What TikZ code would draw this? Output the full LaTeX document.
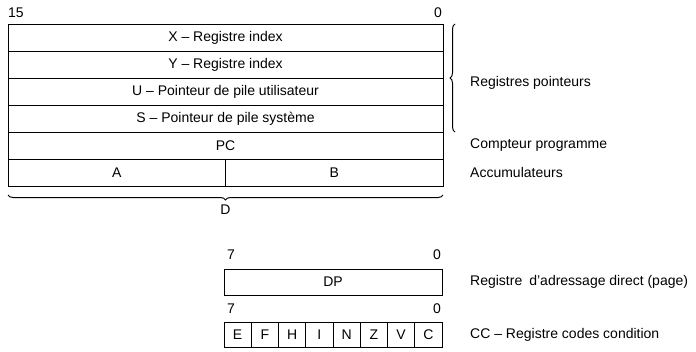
\documentclass[tikz,border=0pt]{standalone}
\usepackage{fontspec}
\setmainfont{Liberation Sans}
\usetikzlibrary{positioning,decorations.pathreplacing}

\tikzset{
    regrow/.style={rectangle,draw=black,line width=1pt,outer sep=0pt,inner sep=0pt,minimum width=435pt,minimum height=27pt},
    halfrow/.style={regrow,minimum width=217.5pt},
    bytebox/.style={regrow,minimum width=218pt,minimum height=26pt},
    flagbox/.style={regrow,minimum width=27.25pt,minimum height=25pt},
    bitnum/.style={inner sep=0pt},
    sidelabel/.style={anchor=west,inner sep=0pt},
    bracket/.style={decorate,line width=1pt}
}

\begin{document}
\begin{tikzpicture}[x=1pt, y=-1pt, every node/.style={font=\fontsize{14}{16}\selectfont}]
    \useasboundingbox (0,0) rectangle (696,351);

    % 16-bit registers
    \node[regrow, anchor=north west] (xreg) at (8,24) {X -- Registre index};
    \node[regrow, below=0pt of xreg] (yreg) {Y -- Registre index};
    \node[regrow, below=0pt of yreg] (ureg) {U -- Pointeur de pile utilisateur};
    \node[regrow, below=0pt of ureg] (sreg) {S -- Pointeur de pile système};
    \node[regrow, below=0pt of sreg] (pcreg) {PC};
    \node[halfrow, below right=0pt of pcreg.south west] (areg) {A};
    \node[halfrow, below left=0pt of pcreg.south east] (breg) {B};

    \node[bitnum, above right=6pt and 0pt of xreg.north west] (msb) {15};
    \node[bitnum, above left=6pt and 1pt of xreg.north east] (lsb) {0};

    % Braces
    \draw[bracket, decoration={brace, amplitude=5pt, mirror}] ([xshift=12pt]xreg.north east) -- ([xshift=12pt]sreg.south east);
    \draw[bracket, decoration={brace, amplitude=5pt, mirror}] ([yshift=-9pt]areg.south west) -- ([yshift=-9pt]breg.south east);
    \node[bitnum, below=19pt of areg.south east] (dreg) {D};

    % Labels
    \node[sidelabel, right=27pt of yreg.south east, yshift=-5pt] (ptrlabel) {Registres pointeurs};
    \node[sidelabel, right=27pt of pcreg.east] (pclabel) {Compteur programme};
    \node[sidelabel, right=27pt of breg.east] (acclabel) {Accumulateurs};

    % 8-bit registers
    \node[bytebox, anchor=north west] (dpreg) at (224,269) {DP};
    \node[bitnum, above right=9pt and 3pt of dpreg.north west] (dpmsb) {7};
    \node[bitnum, above left=9pt and 1pt of dpreg.north east] (dplsb) {0};
    \node[sidelabel, right=28pt of dpreg.east] (dplabel) {Registre\enspace d’adressage direct (page)};

    \foreach \flag [count=\i from 0] in {E,F,H,I,N,Z,V,C}
        \node[flagbox, anchor=north west] (cc\i) at (224+\i*27.25,322) {\flag};
    \node[bitnum, above right=8pt and 3pt of cc0.north west] (ccmsb) {7};
    \node[bitnum, above left=8pt and 1pt of cc7.north east] (cclsb) {0};
    \node[sidelabel, right=28pt of cc7.east] (cclabel) {CC -- Registre codes condition};

\end{tikzpicture}
\end{document}
